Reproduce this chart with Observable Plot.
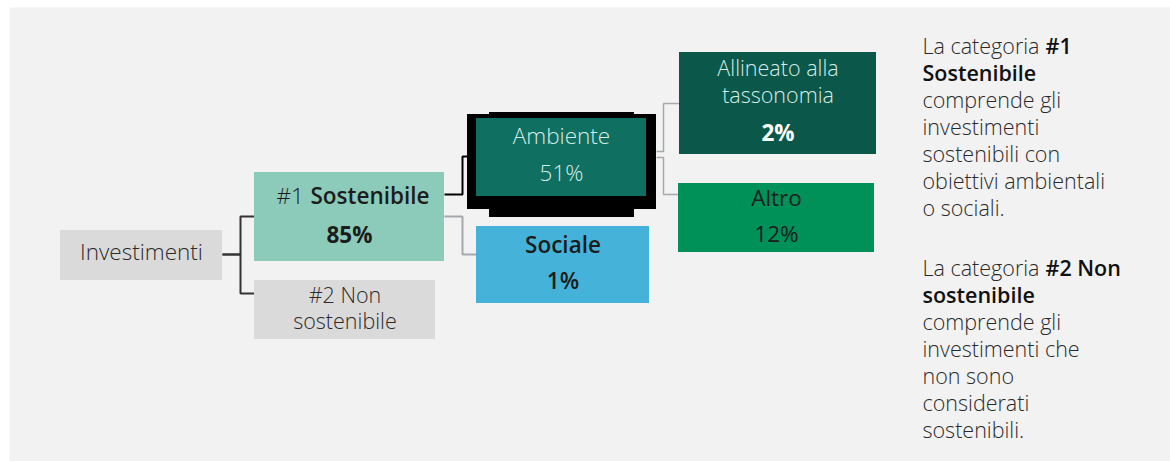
<!DOCTYPE html>
<html><head><meta charset="utf-8">
<script src="https://cdn.jsdelivr.net/npm/d3@7"></script>
<script src="https://cdn.jsdelivr.net/npm/@observablehq/plot@0.6"></script>
<style>
html,body{margin:0;padding:0;background:#fff;}
#chart svg{display:block;font-family:"Open Sans",sans-serif;}
</style>
</head><body><div id="chart"></div>
<script>
// ---------------- DATA ----------------
const categories = ["Investimenti", "#1 Sostenibile", "#2 Non sostenibile", "Ambiente", "Sociale", "Allineato alla tassonomia", "Altro"];
const parents    = [null, "Investimenti", "Investimenti", "#1 Sostenibile", "#1 Sostenibile", "Ambiente", "Ambiente"];
const shares     = [null, 85, null, 51, 1, 2, 12]; // percentuali
// note esplicative: righe, ogni riga è una lista di [testo, grassetto]
const note1 = [
  [["La categoria", false], ["#1", true]],
  [["Sostenibile", true]],
  [["comprende gli", false]],
  [["investimenti", false]],
  [["sostenibili con", false]],
  [["obiettivi ambientali", false]],
  [["o sociali.", false]]
];
const note2 = [
  [["La categoria", false], ["#2 Non", true]],
  [["sostenibile", true]],
  [["comprende gli", false]],
  [["investimenti che", false]],
  [["non sono", false]],
  [["considerati", false]],
  [["sostenibili.", false]]
];

// ---------------- LAYOUT / STYLE ----------------
const FONT = 22.5;
const DARK = "#1c1c1c", LIGHT = "#d6ece6";
const boxes = {
  "Investimenti":              {x1: 60,  x2: 222, y1: 230, y2: 280, fill: "#dadada"},
  "#1 Sostenibile":            {x1: 254, x2: 444, y1: 172, y2: 261, fill: "#8ccbb9"},
  "#2 Non sostenibile":        {x1: 254, x2: 435, y1: 280, y2: 339, fill: "#dadada"},
  "Ambiente":                  {x1: 476, x2: 646, y1: 118, y2: 196, fill: "#0f6f60",
                                frame: [{x1: 467, x2: 656, y1: 114, y2: 209}, {x1: 489, x2: 634, y1: 112, y2: 217}], outX: 656},
  "Sociale":                   {x1: 476, x2: 649, y1: 226, y2: 303, fill: "#45b3d9"},
  "Allineato alla tassonomia": {x1: 679, x2: 876, y1: 52,  y2: 154, fill: "#0b574a"},
  "Altro":                     {x1: 678, x2: 874, y1: 183, y2: 252, fill: "#009159"}
};
// geometry of elbow connectors (keyed by child)
const linkStyle = {
  "#1 Sostenibile":            {exitY: 254, elbowX: 240, entryY: 216, stroke: "#333", width: 2},
  "#2 Non sostenibile":        {exitY: 254, elbowX: 240, entryY: 293, stroke: "#333", width: 2},
  "Ambiente":                  {exitY: 194, elbowX: 462, entryY: 156, stroke: "#000", width: 2, toX: 467},
  "Sociale":                   {exitY: 216, elbowX: 462, entryY: 254, stroke: "#a4a9ad", width: 2},
  "Allineato alla tassonomia": {exitY: 151, elbowX: 663, entryY: 103, stroke: "#a4a9ad", width: 1.5},
  "Altro":                     {exitY: 157, elbowX: 663, entryY: 194, stroke: "#a4a9ad", width: 1.5}
};
// label lines per node: baseline of last name line, line step, share baseline, weights, colours
const labelStyle = {
  "Investimenti":              {lines: ["Investimenti"], nameY: 259, weight: 300, fill: "#2a2a2a"},
  "#1 Sostenibile":            {split: true, nameY: 203, shareY: 242, fill: DARK, shareWeight: 700, splitX: [276, 310]},
  "#2 Non sostenibile":        {lines: ["#2 Non", "sostenibile"], nameY: 328.5, step: 26.5, size: 21.5, weight: 300, fill: "#2a2a2a"},
  "Ambiente":                  {lines: ["Ambiente"], nameY: 143, shareY: 180, weight: 300, fill: LIGHT, shareWeight: 300, shareFill: LIGHT},
  "Sociale":                   {lines: ["Sociale"], nameY: 252, shareY: 288, weight: 600, fill: DARK, shareWeight: 600},
  "Allineato alla tassonomia": {lines: ["Allineato alla", "tassonomia"], nameY: 102, step: 26.5, size: 21.5, shareY: 140, weight: 300, fill: LIGHT, shareWeight: 700, shareFill: "#fff"},
  "Altro":                     {lines: ["Altro"], nameY: 205, shareY: 241, weight: 500, fill: DARK, shareWeight: 400}
};
const noteLayout = {x: 922, boldX: 1045, y0: [53, 275], lineStep: 27, fontSize: 21.5};

// ---------------- BUILD ----------------
const rects = categories.map(c => ({name: c, ...boxes[c]}));
const frames = categories.flatMap(c => (boxes[c].frame || []));

const links = categories.map((c, i) => {
  const p = parents[i];
  if (!p) return null;
  const s = linkStyle[c], pb = boxes[p], cb = boxes[c];
  const sx = pb.outX ?? pb.x2, ex = s.toX ?? cb.x1;
  return {style: s, pts: [[sx, s.exitY], [s.elbowX, s.exitY], [s.elbowX, s.entryY], [ex, s.entryY]]};
}).filter(Boolean);

const labels = [];
categories.forEach((c, i) => {
  const st = labelStyle[c], b = boxes[c], cx = (b.x1 + b.x2) / 2;
  if (st.split) {
    const [pre, ...rest] = c.split(" ");
    labels.push({text: pre, x: st.splitX[0], y: st.nameY, weight: 300, fill: st.fill, anchor: "start"});
    labels.push({text: rest.join(" "), x: st.splitX[1], y: st.nameY, weight: 600, fill: st.fill, anchor: "start"});
  } else {
    const size = st.size || FONT;
    labels.push({text: st.lines.join("\n"), x: cx, y: st.nameY, weight: st.weight, fill: st.fill, anchor: "middle", size, lh: (st.step || 1.2 * size) / size});
  }
  if (shares[i] != null) {
    labels.push({text: `${shares[i]}%`, x: cx, y: st.shareY, weight: st.shareWeight, fill: st.shareFill || st.fill, anchor: "middle"});
  }
});

[note1, note2].forEach((note, ni) => {
  note.forEach((line, li) => {
    const y = noteLayout.y0[ni] + li * noteLayout.lineStep;
    line.forEach(([t, bold], si) => {
      labels.push({text: t, x: si === 0 ? noteLayout.x : noteLayout.boldX, y, weight: bold ? 600 : 300, fill: bold ? "#111" : "#2a2a2a", anchor: "start", size: noteLayout.fontSize});
    });
  });
});

const marks = [
  Plot.frame({fill: "#f2f2f2", stroke: null}),
  ...links.map(l => Plot.line(l.pts, {x: d => d[0], y: d => d[1], stroke: l.style.stroke, strokeWidth: l.style.width, strokeLinejoin: "miter", strokeLinecap: "butt"})),
  Plot.rect(frames, {x1: "x1", x2: "x2", y1: "y1", y2: "y2", fill: "#000"}),
  Plot.rect(rects, {x1: "x1", x2: "x2", y1: "y1", y2: "y2", fill: "fill"}),
  ...labels.map(d => Plot.text([d], {x: "x", y: "y", text: "text", fill: d.fill, fontWeight: d.weight, textAnchor: d.anchor, lineAnchor: "bottom", lineHeight: d.lh || 1.2, fontSize: d.size || FONT}))
];

const chart = Plot.plot({
  width: 1170, height: 461,
  marginTop: 7, marginLeft: 9, marginRight: 0, marginBottom: 0,
  x: {type: "identity", axis: null},
  y: {type: "identity", axis: null},
  color: {type: "identity"},
  style: {fontFamily: "'Open Sans', sans-serif", background: "transparent"},
  marks
});
document.getElementById("chart").appendChild(chart);
</script>
</body></html>
